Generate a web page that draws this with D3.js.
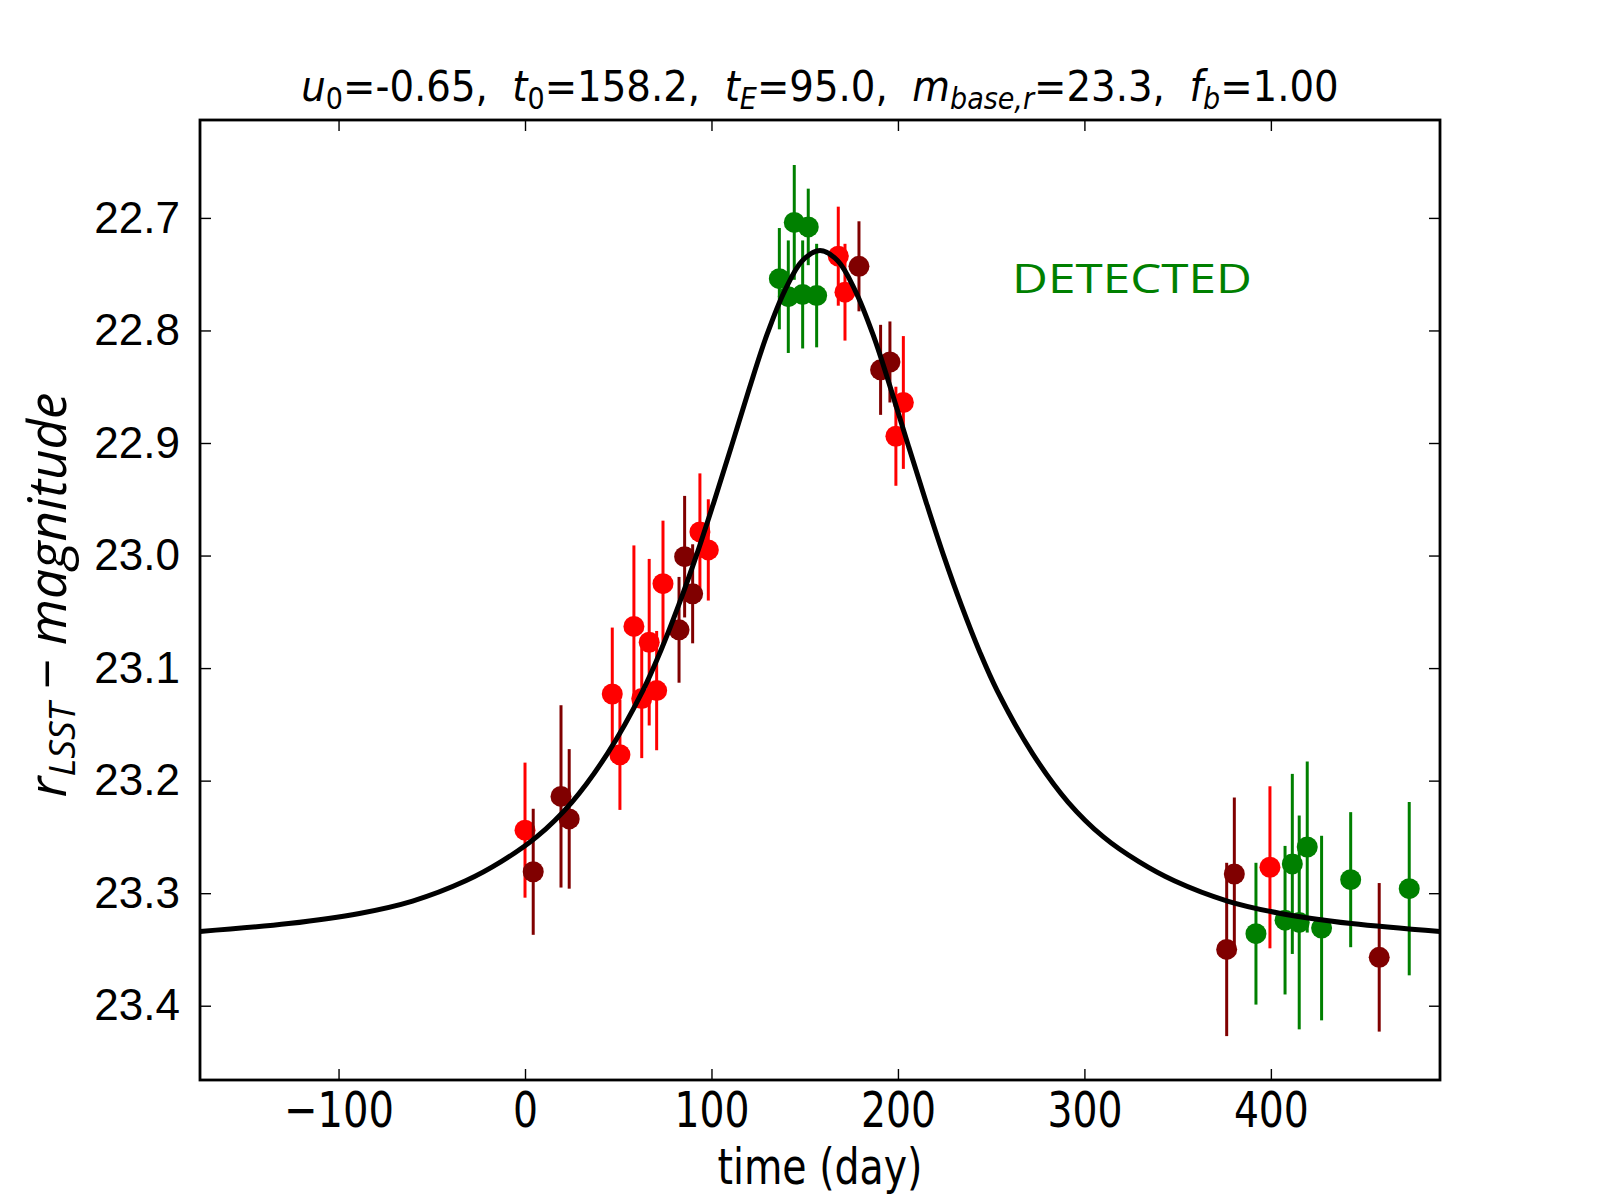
<!DOCTYPE html>
<html>
<head>
<meta charset="utf-8">
<script src="https://cdn.jsdelivr.net/npm/d3@7"></script>
<style>
    body { margin: 0; background: #fff; }
    .narrow { font-family: "Liberation Sans Narrow", "DejaVu Sans Condensed", "Roboto", sans-serif; }
    .y-axis text { font-family: "Liberation Sans", Arial, sans-serif; font-size: 44px; fill: #000; }
    .x-axis text { font-family: "DejaVu Sans Condensed", "DejaVu Sans", sans-serif; font-size: 50px; fill: #000; }
    .tick line { stroke: #000; stroke-width: 1.4; }
</style>
</head>
<body>
<div id="chart"></div>
<script>
// light curve samples: [time (day), r magnitude, error]
const redPoints = [
    [0.0, 23.244, 0.060], [46.8, 23.123, 0.059], [50.9, 23.177, 0.049],
    [58.4, 23.063, 0.072], [62.6, 23.127, 0.053], [66.6, 23.077, 0.074],
    [70.6, 23.120, 0.053], [74.0, 23.025, 0.056], [93.8, 22.979, 0.052],
    [98.3, 22.995, 0.045], [168.0, 22.734, 0.044], [171.6, 22.766, 0.043],
    [198.9, 22.894, 0.044], [202.9, 22.864, 0.059], [399.5, 23.277, 0.072]
]
const darkRedPoints = [
    [4.4, 23.281, 0.056], [19.3, 23.214, 0.081], [23.7, 23.234, 0.062],
    [82.6, 23.066, 0.047], [85.6, 23.001, 0.054], [89.9, 23.034, 0.044],
    [179.1, 22.743, 0.040], [190.7, 22.835, 0.040], [195.7, 22.828, 0.036],
    [376.3, 23.350, 0.077], [380.4, 23.283, 0.068], [458.1, 23.357, 0.066]
]
const greenPoints = [
    [136.4, 22.754, 0.045], [141.2, 22.770, 0.050], [144.4, 22.704, 0.051],
    [148.9, 22.768, 0.048], [151.9, 22.708, 0.034], [156.4, 22.769, 0.046],
    [392.0, 23.336, 0.063], [407.6, 23.324, 0.066], [411.5, 23.274, 0.080],
    [415.2, 23.326, 0.095], [419.5, 23.259, 0.076], [427.2, 23.331, 0.082],
    [442.8, 23.288, 0.060], [474.2, 23.296, 0.077]
]

// model curve
const curveT = [-174.3, -126.8, -88.8, -60.3, -31.8, -12.8, 6.2, 25.2, 44.2, 63.2,
    72.7, 82.2, 91.7, 101.2, 110.7, 120.2, 129.7, 139.2, 148.7, 158.2,
    167.7, 177.2, 186.7, 196.2, 205.7, 215.2, 224.7, 234.2, 243.7, 253.2,
    272.2, 291.2, 310.2, 329.2, 348.2, 376.7, 405.2, 443.2, 490.7]
const curveMag = [23.334, 23.327, 23.318, 23.307, 23.289, 23.272, 23.250, 23.219, 23.176, 23.120,
    23.085, 23.045, 23.001, 22.953, 22.903, 22.852, 22.804, 22.765, 22.738, 22.729,
    22.738, 22.765, 22.804, 22.852, 22.903, 22.953, 23.001, 23.045, 23.085, 23.120,
    23.176, 23.219, 23.250, 23.272, 23.289, 23.307, 23.318, 23.327, 23.334]

const xLimits = [-174.3, 490.7]
const yLimits = [22.613, 23.466]
const xTicks = [-100, 0, 100, 200, 300, 400]
const xTickLabels = ['\u2212100', '0', '100', '200', '300', '400']
const yTicks = [22.7, 22.8, 22.9, 23.0, 23.1, 23.2, 23.3, 23.4]

drawChart()
function drawChart() {
    let dim = {
        width: 1600,
        height: 1200,
        margin: { top: 120, right: 160, bottom: 120, left: 200 }
    }
    dim.boundedWidth = dim.width - dim.margin.left - dim.margin.right
    dim.boundedHeight = dim.height - dim.margin.top - dim.margin.bottom

    const wrapper = d3.select('#chart')
        .append('svg')
        .attr('width', dim.width)
        .attr('height', dim.height)
    const bounds = wrapper.append('g')
        .attr('transform', `translate(${dim.margin.left},${dim.margin.top})`)

    const xScale = d3.scaleLinear().domain(xLimits).range([0, dim.boundedWidth])
    const yScale = d3.scaleLinear().domain(yLimits).range([0, dim.boundedHeight])

    // ticks on all four sides, pointing inward
    const xAxis = bounds.append('g').attr('class', 'x-axis')
        .attr('transform', `translate(0,${dim.boundedHeight})`)
        .call(d3.axisBottom(xScale).tickValues(xTicks)
            .tickSizeInner(-11).tickSizeOuter(0).tickPadding(11)
            .tickFormat((d, i) => xTickLabels[i]))
    // squeeze the tick labels to the tall narrow look of the original
    xAxis.selectAll('.tick text')
        .attr('textLength', d => {
            const s = xTickLabels[xTicks.indexOf(d)]
            return s.replace('\u2212', '').length * 25 + (s.includes('\u2212') ? 35 : 0)
        })
        .attr('lengthAdjust', 'spacingAndGlyphs')
    bounds.append('g')
        .call(d3.axisTop(xScale).tickValues(xTicks)
            .tickSizeInner(-11).tickSizeOuter(0).tickFormat(''))
    bounds.append('g').attr('class', 'y-axis')
        .call(d3.axisLeft(yScale).tickValues(yTicks)
            .tickSizeInner(-11).tickSizeOuter(0).tickPadding(20)
            .tickFormat(d3.format('.1f')))
    bounds.append('g')
        .attr('transform', `translate(${dim.boundedWidth},0)`)
        .call(d3.axisRight(yScale).tickValues(yTicks)
            .tickSizeInner(-11).tickSizeOuter(0).tickFormat(''))
    bounds.selectAll('.domain').remove()

    const series = [
        { points: redPoints, color: '#ff0000' },
        { points: darkRedPoints, color: '#800000' },
        { points: greenPoints, color: '#008000' }
    ]
    series.forEach(s => {
        const g = bounds.append('g')
        g.selectAll('line').data(s.points).join('line')
            .attr('x1', d => xScale(d[0])).attr('x2', d => xScale(d[0]))
            .attr('y1', d => yScale(d[1] - d[2])).attr('y2', d => yScale(d[1] + d[2]))
            .attr('stroke', s.color).attr('stroke-width', 3)
        g.selectAll('circle').data(s.points).join('circle')
            .attr('cx', d => xScale(d[0])).attr('cy', d => yScale(d[1]))
            .attr('r', 10.5).attr('fill', s.color)
    })

    const line = d3.line()
        .x((d, i) => xScale(curveT[i]))
        .y(d => yScale(d))
        .curve(d3.curveCatmullRom)
    bounds.append('path').datum(curveMag)
        .attr('d', line)
        .attr('fill', 'none').attr('stroke', '#000').attr('stroke-width', 5)

    bounds.append('rect')
        .attr('width', dim.boundedWidth).attr('height', dim.boundedHeight)
        .attr('fill', 'none').attr('stroke', '#000').attr('stroke-width', 2.8)

    bounds.append('text')
        .attr('x', 812).attr('y', 173)
        .attr('textLength', 240).attr('lengthAdjust', 'spacingAndGlyphs')
        .style('font-family', '"Open Sans", "Noto Sans", sans-serif')
        .style('font-size', '41px').style('fill', '#008000')
        .text('DETECTED')

    // title with italic symbols and subscripts
    const title = wrapper.append('text').attr('class', 'narrow')
        .attr('x', dim.margin.left + dim.boundedWidth / 2).attr('y', 101)
        .attr('text-anchor', 'middle')
        .style('font-size', '43px')
    const parts = [
        ['u', '0', '=-0.65,\u00a0\u00a0'],
        ['t', '0', '=158.2,\u00a0\u00a0'],
        ['t', 'E', '=95.0,\u00a0\u00a0'],
        ['m', 'base,r', '=23.3,\u00a0\u00a0'],
        ['f', 'b', '=1.00']
    ]
    parts.forEach(p => {
        title.append('tspan').style('font-style', 'italic').text(p[0])
        title.append('tspan').attr('dy', 8).style('font-size', '30px')
            .style('font-style', /\d/.test(p[1]) ? 'normal' : 'italic').text(p[1])
        title.append('tspan').attr('dy', -8).text(p[2])
    })

    wrapper.append('text')
        .attr('x', dim.margin.left + dim.boundedWidth / 2).attr('y', 1184)
        .attr('text-anchor', 'middle')
        .attr('textLength', 205).attr('lengthAdjust', 'spacingAndGlyphs')
        .style('font-family', '"DejaVu Sans Condensed", "DejaVu Sans", sans-serif')
        .style('font-size', '50px')
        .text('time (day)')

    const yLabel = wrapper.append('text')
        .attr('transform', `translate(66,${dim.margin.top + dim.boundedHeight / 2 - 5}) rotate(-90)`)
        .attr('text-anchor', 'middle')
        .style('font-family', '"Open Sans", "Noto Sans", sans-serif')
        .style('font-size', '53px')
    yLabel.append('tspan').style('font-style', 'italic').text('r')
    yLabel.append('tspan').attr('dy', 9).style('font-style', 'italic').style('font-size', '37px').text('LSST')
    yLabel.append('tspan').attr('dy', -9).text(' \u2212 ')
    yLabel.append('tspan').style('font-style', 'italic').text('magnitude')
}
</script>
</body>
</html>
